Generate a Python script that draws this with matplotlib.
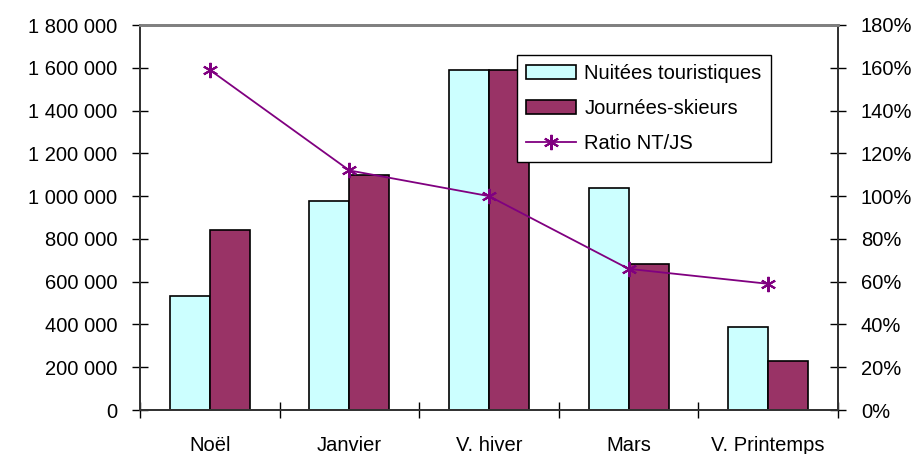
import numpy as np
import matplotlib
matplotlib.use('Agg')
import matplotlib.pyplot as plt
from matplotlib.ticker import FuncFormatter, MultipleLocator

plt.rcParams['font.family'] = ['Liberation Sans', 'DejaVu Sans']

# donnees
periodes = ['Noël', 'Janvier', 'V. hiver', 'Mars', 'V. Printemps']
nuitees = [535000, 977000, 1590000, 1037000, 387000]
journees = [841000, 1097000, 1590000, 684000, 228000]
ratio = [159, 112, 100, 66, 59]

fs = 14.5

fig = plt.figure(figsize=(9.19, 4.54), dpi=100)
ax = fig.add_axes([140/919, 44/454, 698/919, 385/454])

x = np.arange(len(periodes))
w = 0.287
ax.bar(x - w/2, nuitees, w, color='#CCFFFF', edgecolor='black', linewidth=1.2,
       label='Nuitées touristiques', zorder=2)
ax.bar(x + w/2, journees, w, color='#993366', edgecolor='black', linewidth=1.2,
       label='Journées-skieurs', zorder=2)

ax.set_xlim(-0.5, 4.5)
ax.set_ylim(0, 1800000)
ax.yaxis.set_major_locator(MultipleLocator(200000))
ax.yaxis.set_major_formatter(FuncFormatter(lambda v, p: f'{int(v):,}'.replace(',', ' ')))

# graduations entre les categories, libelles au centre
ax.set_xticks(np.arange(-0.5, 5, 1))
ax.set_xticklabels([])
ax.set_xticks(x, minor=True)
ax.set_xticklabels(periodes, minor=True, fontsize=fs)
ax.tick_params(axis='x', which='major', direction='inout', length=12, width=1)
ax.tick_params(axis='x', which='minor', length=0, pad=19)
ax.tick_params(axis='y', direction='inout', length=11, width=1, labelsize=fs, pad=11)

ax2 = ax.twinx()
ax2.plot(x, ratio, color='#800080', linewidth=1.3, marker=(6, 2, 0), markersize=11,
         markeredgewidth=1.5, label='Ratio NT/JS', zorder=3)
ax2.set_ylim(0, 180)
ax2.yaxis.set_major_locator(MultipleLocator(20))
ax2.yaxis.set_major_formatter(FuncFormatter(lambda v, p: f'{int(v)}%'))
ax2.tick_params(axis='y', direction='inout', length=11, width=1, labelsize=fs, pad=11)

for a in (ax, ax2):
    a.spines['top'].set_color('#808080')
    a.spines['top'].set_linewidth(2)
    for s in ('left', 'right', 'bottom'):
        a.spines[s].set_color('#333333')
        a.spines[s].set_linewidth(1.3)

h1, l1 = ax.get_legend_handles_labels()
h2, l2 = ax2.get_legend_handles_labels()
leg = ax2.legend(h1 + h2, l1 + l2, loc='upper left', bbox_to_anchor=(377/698, 1 - 30/385),
                 borderaxespad=0, fontsize=fs, frameon=True, fancybox=False,
                 edgecolor='black', framealpha=1, borderpad=0.45, handlelength=2.5,
                 handletextpad=0.4, labelspacing=0.8)
leg.get_frame().set_linewidth(1)
leg.set_zorder(10)

fig.savefig('out.png', dpi=100)
